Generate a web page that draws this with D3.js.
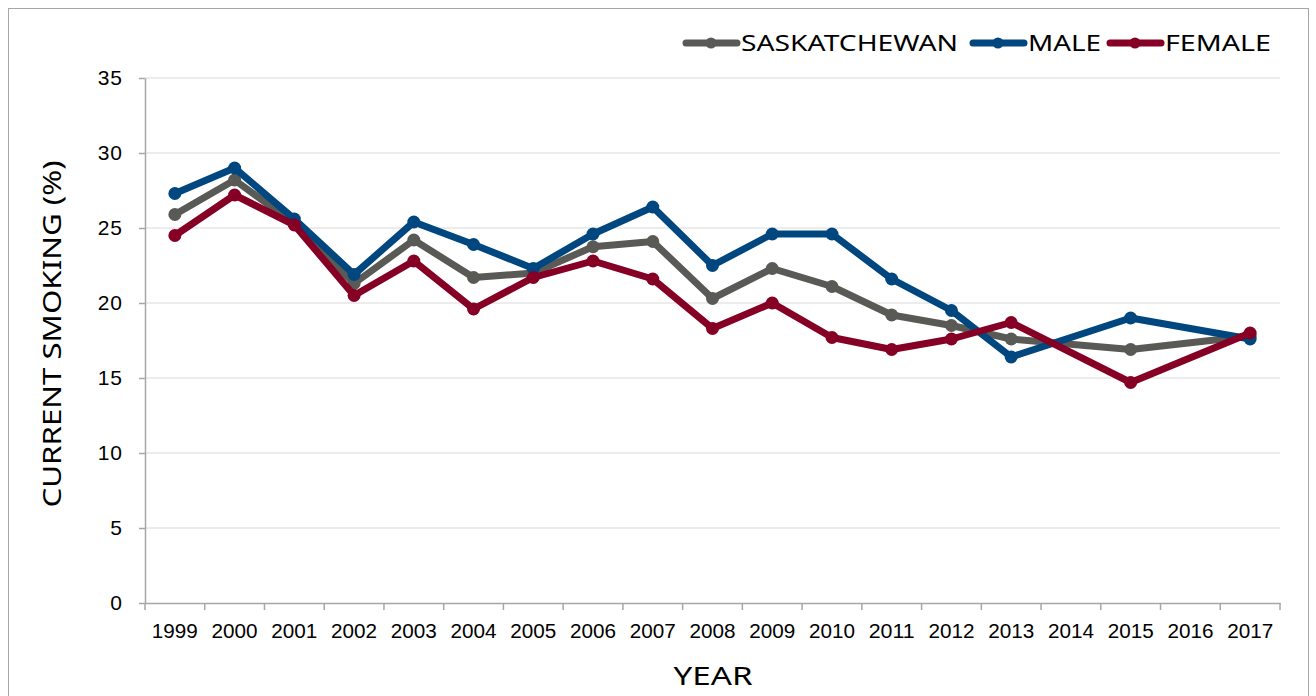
<!DOCTYPE html>
<html>
<head>
<meta charset="utf-8">
<script src="https://cdn.jsdelivr.net/npm/d3@7"></script>
<style>
  body { margin: 0; background: #fff; }
  svg { display: block; font-family: "Noto Sans", "Open Sans", sans-serif; }
  .grid line { stroke: #d9d9d9; stroke-width: 1; }
  .axis path, .axis line { stroke: #a6a6a6; stroke-width: 1.5; }
  .axis text { fill: #000; font-size: 20px; }
  .line { fill: none; stroke-width: 7; stroke-linejoin: round; stroke-linecap: round; }
</style>
</head>
<body>
<svg width="1316" height="696"></svg>
<script>
// data
var years = ["1999","2000","2001","2002","2003","2004","2005","2006","2007","2008",
             "2009","2010","2011","2012","2013","2014","2015","2016","2017"];
var saskatchewan = [25.9, 28.2, 25.3, 21.3, 24.2, 21.7, 22.0, 23.75, 24.1, 20.3,
                    22.3, 21.1, 19.2, 18.5, 17.6, null, 16.9, null, 17.8];
var male = [27.3, 29.0, 25.6, 21.9, 25.4, 23.9, 22.3, 24.6, 26.4, 22.5,
            24.6, 24.6, 21.6, 19.5, 16.4, null, 19.0, null, 17.6];
var female = [24.5, 27.2, 25.2, 20.5, 22.8, 19.6, 21.7, 22.8, 21.6, 18.3,
              20.0, 17.7, 16.9, 17.6, 18.7, null, 14.7, null, 18.0];
var seriesNames = ["SASKATCHEWAN", "MALE", "FEMALE"];
var seriesColors = ["#595a55", "#00467f", "#850024"];
var yTicks = [0, 5, 10, 15, 20, 25, 30, 35];

function init()
{
    var svg = d3.select("svg"),
        margin = {top: 78, right: 36, bottom: 93, left: 145},
        width = svg.attr("width") - margin.left - margin.right,
        height = svg.attr("height") - margin.top - margin.bottom;

    // outer frame
    svg.append("rect")
        .attr("x", 8.5).attr("y", 8.5)
        .attr("width", 1300).attr("height", 700)
        .attr("fill", "none")
        .attr("stroke", "#a6a6a6")
        .attr("stroke-width", 1);

    var g = svg.append("g").attr("transform", "translate(" + margin.left + "," + margin.top + ")");

    var x = d3.scaleBand().domain(years).range([0, width]),
        y = d3.scaleLinear().domain([0, 35]).range([height, 0]);

    // gridlines
    g.append("g")
        .attr("class", "grid")
        .selectAll("line")
        .data(yTicks.filter(function(d) { return d > 0; }))
        .enter().append("line")
            .attr("x1", 0).attr("x2", width)
            .attr("y1", function(d) { return y(d); })
            .attr("y2", function(d) { return y(d); });

    // x axis, ticks between categories
    var xAxis = g.append("g")
        .attr("class", "axis axis--x")
        .attr("transform", "translate(0," + height + ")")
        .call(d3.axisBottom(x).tickSize(0).tickPadding(28));
    xAxis.selectAll(".tick text")
        .attr("dy", "0.35em")
        .attr("textLength", 46)
        .attr("lengthAdjust", "spacingAndGlyphs");
    xAxis.selectAll(".bound")
        .data(d3.range(years.length + 1))
        .enter().append("line")
            .attr("class", "bound")
            .attr("x1", function(i) { return i * x.step(); })
            .attr("x2", function(i) { return i * x.step(); })
            .attr("y1", 0).attr("y2", 7);

    // y axis
    var yAxis = g.append("g")
        .attr("class", "axis axis--y")
        .call(d3.axisLeft(y).tickValues(yTicks).tickSize(6).tickPadding(16).tickSizeOuter(0));
    yAxis.selectAll(".tick text").style("font-size", "21px").style("letter-spacing", "1px");

    // axis titles
    svg.append("text")
        .attr("transform", "translate(52," + 334 + ") rotate(-90)")
        .attr("text-anchor", "middle")
        .attr("dy", "0.35em")
        .attr("textLength", 347)
        .attr("lengthAdjust", "spacingAndGlyphs")
        .style("font-size", "25px")
        .attr("fill", "#000")
        .text("CURRENT SMOKING (%)");

    svg.append("text")
        .attr("x", 713)
        .attr("y", 676)
        .attr("text-anchor", "middle")
        .attr("dy", "0.35em")
        .attr("textLength", 79)
        .attr("lengthAdjust", "spacingAndGlyphs")
        .style("font-size", "25px")
        .attr("fill", "#000")
        .text("YEAR");

    var series = [saskatchewan, male, female].map(function(vals, k) {
        return {
            id: seriesNames[k],
            color: seriesColors[k],
            values: years.map(function(yr, i) { return {year: yr, value: vals[i]}; })
                .filter(function(d) { return d.value !== null; })
        };
    });

    var line = d3.line()
        .x(function(d) { return x(d.year) + x.bandwidth() / 2; })
        .y(function(d) { return y(d.value); });

    var s = g.selectAll(".series")
        .data(series)
        .enter().append("g")
            .attr("class", "series");

    s.append("path")
        .attr("class", "line")
        .attr("d", function(d) { return line(d.values); })
        .style("stroke", function(d) { return d.color; });

    s.selectAll("circle")
        .data(function(d) { return d.values.map(function(v) { return {c: d.color, v: v}; }); })
        .enter().append("circle")
            .attr("cx", function(d) { return x(d.v.year) + x.bandwidth() / 2; })
            .attr("cy", function(d) { return y(d.v.value); })
            .attr("r", 6.5)
            .attr("fill", function(d) { return d.c; });

    // legend
    var legendX = [683, 970, 1107];
    var legendW = [217, 73, 106];
    var legend = svg.selectAll(".legend")
        .data(series)
        .enter().append("g")
            .attr("class", "legend")
            .attr("transform", function(d, i) { return "translate(" + legendX[i] + ",43)"; });

    legend.append("line")
        .attr("x1", 3).attr("x2", 54)
        .attr("y1", 0).attr("y2", 0)
        .attr("stroke", function(d) { return d.color; })
        .attr("stroke-width", 7)
        .attr("stroke-linecap", "round");
    legend.append("circle")
        .attr("cx", 28).attr("cy", 0).attr("r", 5.5)
        .attr("fill", function(d) { return d.color; });
    legend.append("text")
        .attr("x", 58)
        .attr("dy", "0.35em")
        .attr("textLength", function(d, i) { return legendW[i]; })
        .attr("lengthAdjust", "spacingAndGlyphs")
        .style("font-size", "22px")
        .attr("fill", "#000")
        .text(function(d) { return d.id; });
}

init();
</script>
</body>
</html>
